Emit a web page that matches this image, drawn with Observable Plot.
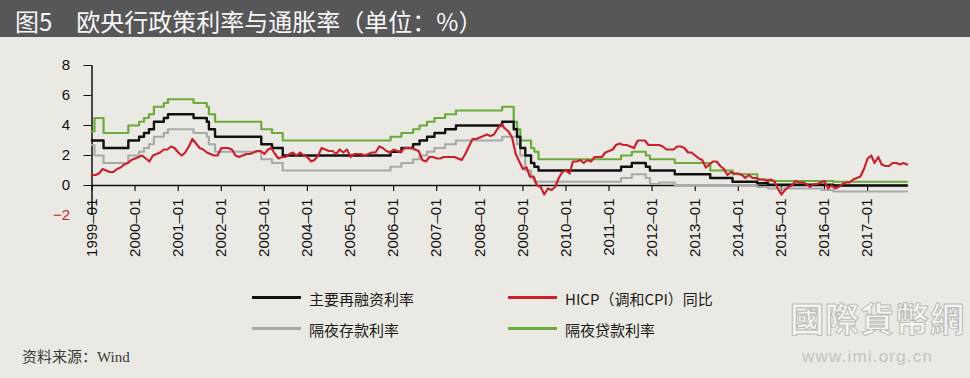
<!DOCTYPE html>
<html><head><meta charset="utf-8">
<script src="https://cdn.jsdelivr.net/npm/d3@7"></script>
<script src="https://cdn.jsdelivr.net/npm/@observablehq/plot@0.6"></script>
<style>
html,body{margin:0;padding:0;background:#ebe9e3;}
#page{position:relative;width:970px;height:378px;overflow:hidden;background:#ebe9e3;font-family:"Noto Sans CJK SC",sans-serif;}
#title{position:absolute;left:0;top:0;width:970px;height:37px;background:#575659;color:#f7f7f7;font-size:24px;line-height:42px;padding-left:15px;box-sizing:border-box;white-space:pre;overflow:hidden;}
#chart{position:absolute;left:0;top:40px;}
.lg-line{position:absolute;width:49px;height:2.5px;}
.lg-text{position:absolute;font-size:15px;line-height:20px;color:#1a1a1a;white-space:pre;}
#source{position:absolute;left:22px;top:347px;font-size:15px;line-height:20px;color:#3a3a3a;font-family:"Liberation Serif","Noto Sans CJK SC",serif;}
#wm1{position:absolute;left:790px;top:296px;font-size:34px;line-height:44px;color:#f6f5f1;-webkit-text-stroke:1px #bdbcb7;font-family:"Noto Sans CJK TC",sans-serif;font-weight:700;letter-spacing:1px;}
#wm2{position:absolute;left:802px;top:347px;font-size:17px;line-height:20px;color:#c4c3bf;font-family:"Liberation Sans",sans-serif;letter-spacing:1.2px;}
</style>
</head>
<body>
<div id="page">
  <div id="title">图5　欧央行政策利率与通胀率（单位：%）</div>
  <div id="chart"></div>
  <div id="legend"></div>
  <div id="source">资料来源：Wind</div>
  <div id="wm1">國際貨幣網</div>
  <div id="wm2">www.imi.org.cn</div>
</div>
<script>
// ---- Data ----
// Main refinancing rate (change dates / values)
const mroDates = ["1999-01-01","1999-04-09","1999-11-05","2000-02-04","2000-03-17","2000-04-28","2000-06-09","2000-09-01","2000-10-06","2001-05-11","2001-08-31","2001-09-18","2001-11-09","2002-12-06","2003-03-07","2003-06-06","2005-12-06","2006-03-08","2006-06-15","2006-08-09","2006-10-11","2006-12-13","2007-03-14","2007-06-13","2008-07-09","2008-10-15","2008-11-12","2008-12-10","2009-01-21","2009-03-11","2009-04-08","2009-05-13","2011-04-13","2011-07-13","2011-11-09","2011-12-14","2012-07-11","2013-05-08","2013-11-13","2014-06-11","2014-09-10","2016-03-16","2017-12-01"];
const mroValues = [3.0,2.5,3.0,3.25,3.5,3.75,4.25,4.5,4.75,4.5,4.25,3.75,3.25,2.75,2.5,2.0,2.25,2.5,2.75,3.0,3.25,3.5,3.75,4.0,4.25,3.75,3.25,2.5,2.0,1.5,1.25,1.0,1.25,1.5,1.25,1.0,0.75,0.5,0.25,0.15,0.05,0.0,0.0];

// Overnight deposit rate
const depDates = ["1999-01-01","1999-01-22","1999-04-09","1999-11-05","2000-02-04","2000-03-17","2000-04-28","2000-06-09","2000-09-01","2000-10-06","2001-05-11","2001-08-31","2001-09-18","2001-11-09","2002-12-06","2003-03-07","2003-06-06","2005-12-06","2006-03-08","2006-06-15","2006-08-09","2006-10-11","2006-12-13","2007-03-14","2007-06-13","2008-07-09","2008-11-12","2008-12-10","2009-01-21","2009-03-11","2009-04-08","2011-04-13","2011-07-13","2011-11-09","2011-12-14","2012-03-01","2012-07-11","2014-06-11","2014-09-10","2015-12-09","2016-03-16","2017-12-01"];
const depValues = [2.7,2.0,1.5,2.0,2.25,2.5,2.75,3.25,3.5,3.75,3.5,3.25,2.75,2.25,1.75,1.5,1.0,1.25,1.5,1.75,2.0,2.25,2.5,2.75,3.0,3.25,2.75,2.0,1.0,0.5,0.25,0.5,0.75,0.5,0.1,0.2,0.0,-0.1,-0.2,-0.3,-0.4,-0.4];

// Overnight lending (marginal lending) rate
const lendDates = ["1999-01-01","1999-01-22","1999-04-09","1999-11-05","2000-02-04","2000-03-17","2000-04-28","2000-06-09","2000-09-01","2000-10-06","2001-05-11","2001-08-31","2001-09-18","2001-11-09","2002-12-06","2003-03-07","2003-06-06","2005-12-06","2006-03-08","2006-06-15","2006-08-09","2006-10-11","2006-12-13","2007-03-14","2007-06-13","2008-07-09","2008-10-15","2008-11-12","2008-12-10","2009-03-11","2009-04-08","2009-05-13","2011-04-13","2011-07-13","2011-11-09","2011-12-14","2012-07-11","2013-05-08","2013-11-13","2014-06-11","2014-09-10","2016-03-16","2017-12-01"];
const lendValues = [3.6,4.5,3.5,4.0,4.25,4.5,4.75,5.25,5.5,5.75,5.5,5.25,4.75,4.25,3.75,3.5,3.0,3.25,3.5,3.75,4.0,4.25,4.5,4.75,5.0,5.25,4.25,3.75,3.0,2.5,2.25,1.75,2.0,2.25,2.0,1.75,1.5,1.0,0.75,0.4,0.3,0.25,0.25];

// HICP y/y, monthly from 1999-01 to 2017-12
const hicpStart = "1999-01-01";
const hicp = [
 0.7,0.7,0.8,1.1,1.0,0.9,0.9,1.1,1.2,1.4,1.5,1.7,
 1.8,1.9,2.0,1.8,1.6,2.0,2.1,2.2,2.4,2.4,2.6,2.5,
 2.2,2.0,2.2,2.6,3.1,2.8,2.5,2.4,2.2,2.1,2.0,2.0,
 2.5,2.5,2.5,2.4,2.0,1.9,2.0,2.1,2.1,2.2,2.3,2.3,
 2.1,2.4,2.5,2.1,1.8,1.9,1.9,2.1,2.2,2.0,2.2,2.0,
 1.9,1.6,1.7,2.0,2.5,2.4,2.3,2.3,2.1,2.4,2.2,2.4,
 1.9,2.1,2.1,2.1,2.0,2.1,2.2,2.2,2.6,2.5,2.3,2.2,
 2.4,2.3,2.2,2.5,2.5,2.5,2.4,2.3,1.7,1.6,1.9,1.9,
 1.8,1.8,1.9,1.9,1.9,1.9,1.8,1.7,2.1,2.6,3.1,3.1,
 3.2,3.3,3.4,3.3,3.4,3.8,4.1,3.8,3.6,3.2,2.1,1.6,
 1.1,1.2,0.6,0.6,0.0,-0.1,-0.6,-0.2,-0.3,-0.1,0.5,0.9,
 1.0,0.8,1.6,1.6,1.7,1.5,1.7,1.6,1.9,1.9,1.9,2.2,
 2.3,2.4,2.7,2.8,2.7,2.7,2.6,2.5,3.0,3.0,3.0,2.7,
 2.7,2.7,2.7,2.6,2.4,2.4,2.4,2.6,2.6,2.5,2.2,2.2,
 2.0,1.8,1.7,1.2,1.4,1.6,1.6,1.3,1.1,0.7,0.9,0.8,
 0.8,0.7,0.5,0.7,0.5,0.5,0.4,0.4,0.3,0.4,0.3,-0.2,
 -0.6,-0.3,-0.1,0.0,0.3,0.2,0.2,0.1,-0.1,0.1,0.1,0.2,
 0.3,-0.2,0.0,-0.2,-0.1,0.1,0.2,0.2,0.4,0.5,0.6,1.1,
 1.8,2.0,1.5,1.9,1.4,1.3,1.3,1.5,1.5,1.4,1.5,1.4
];

const yTicks = [0, 2, 4, 6, 8];
const yNegLabel = [-2];
const xTickYears = ["1999-01-01","2000-01-01","2001-01-01","2002-01-01","2003-01-01","2004-01-01","2005-01-01","2006-01-01","2007-01-01","2008-01-01","2009-01-01","2010-01-01","2011-01-01","2012-01-01","2013-01-01","2014-01-01","2015-01-01","2016-01-01","2017-01-01"];
const xDomain = ["1999-01-01", "2017-12-01"];

const seriesNames = ["主要再融资利率", "HICP（调和CPI）同比", "隔夜存款利率", "隔夜贷款利率"];
const seriesColors = ["#111111", "#c9222d", "#a9a9a9", "#6aab3c"];

// ---- Build tables ----
const toRows = (ds, vs) => ds.map((d, i) => ({date: new Date(d), value: vs[i]}));
const mro = toRows(mroDates, mroValues);
const dep = toRows(depDates, depValues);
const lend = toRows(lendDates, lendValues);
const hicpRows = hicp.map((v, i) => ({date: d3.utcMonth.offset(new Date(hicpStart), i), value: v}));
const xTicks = xTickYears.map(d => new Date(d));
const fmt = d3.utcFormat("%Y–%m");

const chart = Plot.plot({
  width: 970,
  height: 230,
  marginLeft: 91.5,
  marginRight: 63.5,
  marginTop: 25,
  marginBottom: 55,
  style: {background: "transparent", fontFamily: "'Liberation Sans', Arial, sans-serif", fontSize: "15px", color: "#111", overflow: "visible"},
  x: {type: "utc", domain: xDomain.map(d => new Date(d)), axis: null},
  y: {domain: [-2, 8]},
  marks: [
    Plot.axisY({ticks: yTicks, tickSize: 8, tickPadding: 14, tickFormat: d => String(d), stroke: "#111", fill: "#111", label: null}),
    Plot.text(yNegLabel, {y: d => d, frameAnchor: "left", dx: -22, textAnchor: "end", text: d => "−" + Math.abs(d), fill: "#c9252c"}),
    Plot.ruleY([0], {stroke: "#111", strokeWidth: 1.5}),
    Plot.ruleX([xTicks[0]], {y1: -2, y2: 8, stroke: "#111", strokeWidth: 1.5}),
    Plot.ruleX(xTicks, {x: d => d, y1: 0, y2: -0.4, stroke: "#111", strokeWidth: 1.2}),
    Plot.text(xTicks, {x: d => d, y: 0, text: d => fmt(d), rotate: -90, textAnchor: "end", dy: 13, fill: "#111"}),
    Plot.line(dep, {x: "date", y: "value", curve: "step-after", stroke: seriesColors[2], strokeWidth: 2.2}),
    Plot.line(lend, {x: "date", y: "value", curve: "step-after", stroke: seriesColors[3], strokeWidth: 2.2}),
    Plot.line(mro, {x: "date", y: "value", curve: "step-after", stroke: seriesColors[0], strokeWidth: 2.4}),
    Plot.line(hicpRows, {x: "date", y: "value", stroke: seriesColors[1], strokeWidth: 2.2})
  ]
});
document.getElementById("chart").appendChild(chart);

// ---- Legend ----
const legendPos = [
  {lx: 252, ly: 296, tx: 309, ty: 289},
  {lx: 508, ly: 296, tx: 565, ty: 289},
  {lx: 252, ly: 327, tx: 309, ty: 320},
  {lx: 508, ly: 327, tx: 565, ty: 320}
];
const page = document.getElementById("page");
seriesNames.forEach((name, i) => {
  const p = legendPos[i];
  const ln = document.createElement("div");
  ln.className = "lg-line";
  ln.style.left = p.lx + "px"; ln.style.top = p.ly + "px"; ln.style.background = seriesColors[i];
  page.appendChild(ln);
  const tx = document.createElement("div");
  tx.className = "lg-text";
  tx.style.left = p.tx + "px"; tx.style.top = p.ty + "px";
  tx.textContent = name;
  page.appendChild(tx);
});
</script>
</body></html>
